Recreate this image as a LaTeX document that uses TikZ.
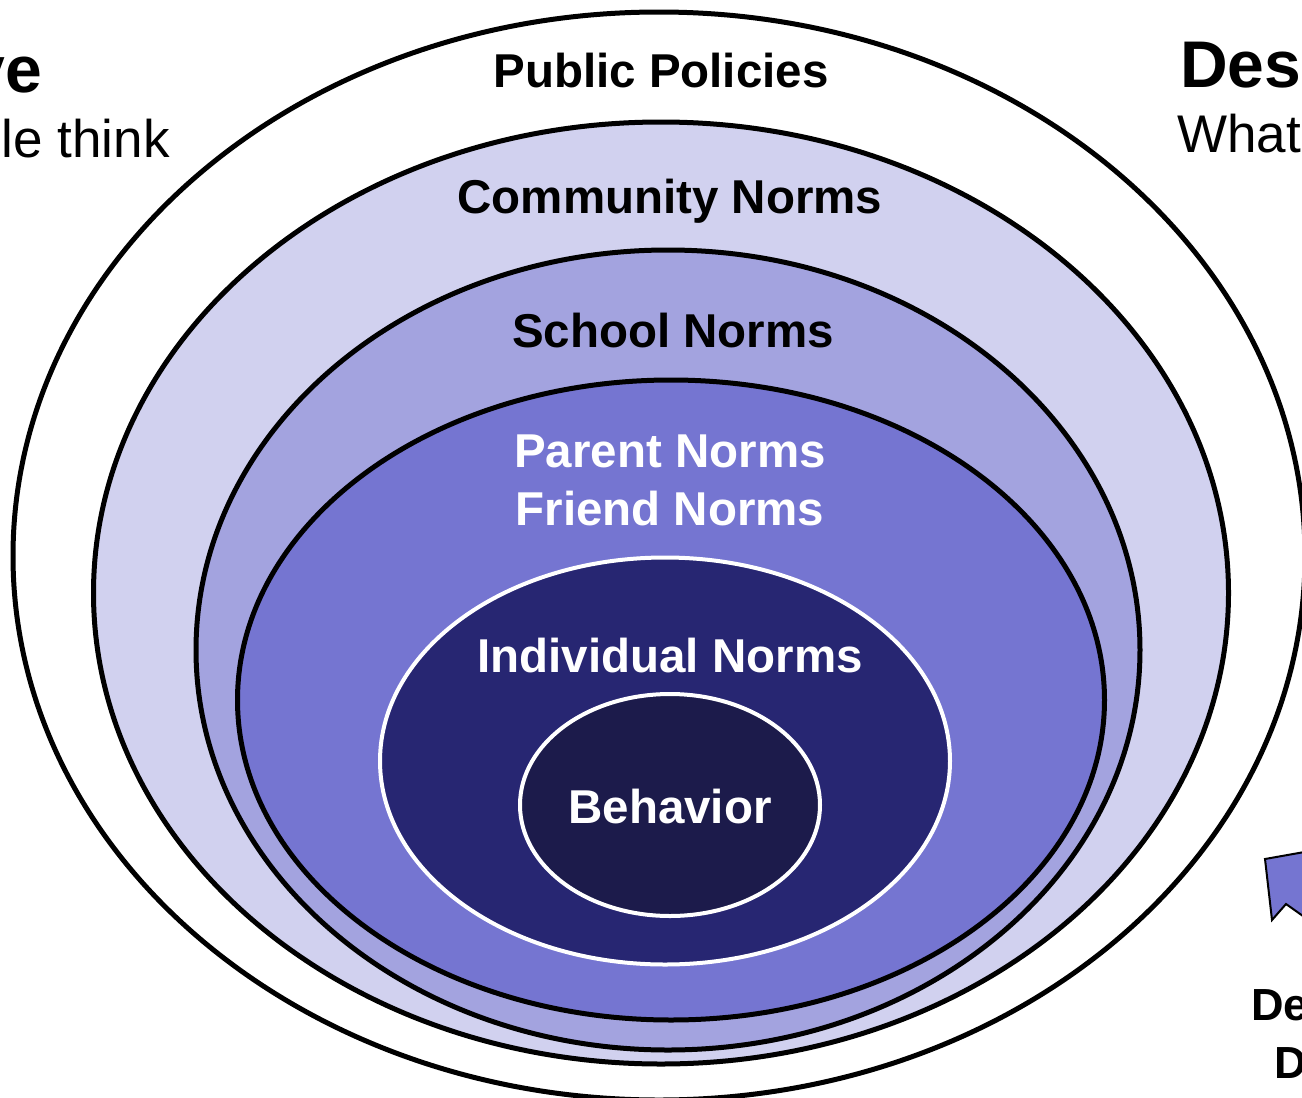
\documentclass[tikz,border=0pt]{standalone}
\usepackage{fontspec}
\setmainfont{Liberation Sans}
\usetikzlibrary{shapes.geometric}
\definecolor{cComm}{HTML}{D1D1EF}
\definecolor{cSchool}{HTML}{A3A3DF}
\definecolor{cParent}{HTML}{7575D1}
\definecolor{cIndiv}{HTML}{272672}
\definecolor{cBehav}{HTML}{1C1B4B}
\tikzset{
  ring/.style={ellipse, draw=black, line width=5pt, inner sep=0pt},
  wring/.style={ellipse, draw=white, line width=4pt, inner sep=0pt},
  lbl/.style={anchor=base, inner sep=0pt, font=\fontsize{47.5pt}{58pt}\selectfont\bfseries},
  side/.style={inner sep=0pt},
}
\begin{document}
\begin{tikzpicture}[x=1pt,y=-1pt]
\useasboundingbox (0,0) rectangle (1302,1098);
\clip (0,0) rectangle (1302,1098);
\fill[white] (0,0) rectangle (1302,1098);
% ellipses
\node[ring, fill=white, minimum width=1292pt, minimum height=1088pt] (outer) at (659,556) {};
\node[ring, fill=cComm, minimum width=1135pt, minimum height=942pt] (comm) at (661,593) {};
\node[ring, fill=cSchool, minimum width=944pt, minimum height=800pt] (school) at (668,650) {};
\node[ring, fill=cParent, minimum width=867pt, minimum height=640pt] (parent) at (671,700) {};
\node[wring, fill=cIndiv, minimum width=570pt, minimum height=407pt] (indiv) at (665,761) {};
\node[wring, fill=cBehav, minimum width=300pt, minimum height=222pt] (behav) at (670,805) {};
% labels
\node[lbl] (tPublic) at (661,87) {Public Policies};
\node[lbl] (tComm) at (670,213) {Community Norms};
\node[lbl] (tSchool) at (673,347) {School Norms};
\node[lbl, text=white] (tParent) at (670,467) {Parent Norms};
\node[lbl, text=white] (tFriend) at (670,525) {Friend Norms};
\node[lbl, text=white] (tIndiv) at (670,672) {Individual Norms};
\node[lbl, text=white] (tBehav) at (670,823) {Behavior};
% side texts (cut by the picture edge, as in the reference)
\node[side, anchor=base east, font=\fontsize{66pt}{70pt}\selectfont\bfseries] (injA) at (42,92) {ve};
\node[side, anchor=base east, font=\fontsize{53pt}{60pt}\selectfont] (injB) at (170,157) {le think};
\node[side, anchor=base west, font=\fontsize{66pt}{70pt}\selectfont\bfseries] (descA) at (1180,87) {Desc};
\node[side, anchor=base west, font=\fontsize{53pt}{60pt}\selectfont] (descB) at (1177,152) {What};
\node[side, anchor=base west, font=\fontsize{45pt}{50pt}\selectfont\bfseries] (botA) at (1251,1020) {De};
\node[side, anchor=base west, font=\fontsize{45pt}{50pt}\selectfont\bfseries] (botB) at (1274,1078) {D};
% partial arrow shape at right
\draw[fill=cParent, line width=2pt, line join=miter] (1265,859) -- (1310,851) -- (1310,921) -- (1286,904) -- (1272,920) -- cycle;
\end{tikzpicture}
\end{document}
